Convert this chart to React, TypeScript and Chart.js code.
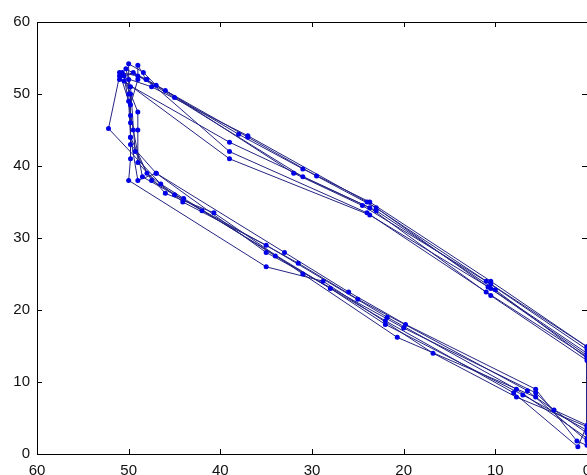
import React, { useEffect, useRef } from "react";
import { Chart, registerables } from "chart.js";

Chart.register(...registerables);

// Trajectory cycles: [x, y] pairs
const cycle1: [number, number][] = [
  [0, 1.2], [1.1, 1.8], [5.6, 9], [19.8, 18], [26, 22.5], [33, 28], [47, 39], [49.8, 43], [49.8, 47],
  [50, 50], [50, 52], [50, 54.2], [48.4, 53], [47, 51.2], [38, 44.4], [31, 39.6], [23.7, 35], [10.5, 24], [0, 14.9],
];
const cycle2: [number, number][] = [
  [0, 2.2], [7.7, 9], [21.8, 19], [35, 29], [44.1, 35], [48, 39], [49.8, 44], [49.8, 48.5],
  [49, 52], [49, 54], [48.1, 52], [37, 44], [29.5, 38.6], [23, 34.2], [10.8, 23.2], [0, 13.7],
];
const cycle3: [number, number][] = [
  [0, 2.9], [5.6, 7.9], [20.7, 16.2], [31, 25], [40.7, 33.5], [46, 36.2], [49, 40.5], [49, 45],
  [49, 47.5], [50.7, 53], [51, 52], [39, 43.3], [23.7, 34.2], [10.5, 22], [0, 13],
];
const cycle4: [number, number][] = [
  [0, 3.8], [7.7, 7.9], [16.8, 14], [28.8, 24], [35, 26], [50, 38], [49.8, 41], [49.8, 46],
  [49.8, 50], [50.5, 51.8], [39, 41], [23.7, 33.2], [10.5, 23], [0, 14],
];
const cycle5: [number, number][] = [
  [0, 14.9], [10.5, 23.6], [24, 35], [37, 44.2], [47.5, 51], [51, 52.5], [52.2, 45.2], [46.5, 37.5],
  [44, 35.5], [34, 27.5], [22, 18.5], [8, 8.5], [1, 1],
];
const cycle6: [number, number][] = [
  [0, 4], [3.6, 6.1], [5.6, 8.5], [20, 17.5], [35, 28], [47, 39], [49, 38], [49.8, 44], [50, 49],
  [51, 53], [49, 52.5], [48, 52], [39, 42], [24, 33.5], [11, 22.5], [0, 13.5],
];
const cycle7: [number, number][] = [
  [0, 1.8], [6.5, 8.8], [25, 21.5], [31.5, 26.5], [45, 36], [48.5, 38.5], [49.5, 45], [50.5, 52.5],
  [49.5, 53], [46, 50.5], [32, 39], [24.5, 34.5], [11, 24], [0, 14.5],
];
const cycle8: [number, number][] = [
  [0, 3.3], [7, 8.2], [22, 18], [28, 23], [42, 33.8], [47.5, 38], [49.3, 42], [49.8, 51],
  [50.3, 53.5], [45, 49.5], [31, 38.5], [23, 33.8], [10, 22.8], [0, 13.3],
];

const cycles = [cycle1, cycle2, cycle3, cycle4, cycle5, cycle6, cycle7, cycle8];

const xTickValues = [0, 10, 20, 30, 40, 50, 60];
const yTickValues = [0, 10, 20, 30, 40, 50, 60];

const boxPlugin = {
  id: "matlabBox",
  afterDraw(chart: any) {
    const { ctx, chartArea, scales } = chart;
    const { left, right, top, bottom } = chartArea;
    ctx.save();
    ctx.strokeStyle = "#000";
    ctx.lineWidth = 1;
    ctx.strokeRect(Math.round(left) + 0.5, Math.round(top) + 0.5, Math.round(right - left), Math.round(bottom - top));
    const len = 5;
    ctx.beginPath();
    for (const v of xTickValues) {
      const px = Math.round(scales.x.getPixelForValue(v)) + 0.5;
      ctx.moveTo(px, bottom);
      ctx.lineTo(px, bottom - len);
      ctx.moveTo(px, top);
      ctx.lineTo(px, top + len);
    }
    for (const v of yTickValues) {
      const py = Math.round(scales.y.getPixelForValue(v)) + 0.5;
      ctx.moveTo(left, py);
      ctx.lineTo(left + len, py);
      ctx.moveTo(right, py);
      ctx.lineTo(right - len, py);
    }
    ctx.stroke();
    ctx.restore();
  },
};

export default function App() {
  const ref = useRef<HTMLCanvasElement | null>(null);

  useEffect(() => {
    if (!ref.current) return;
    const points = cycles.flat().map(([x, y]) => ({ x, y }));
    const font = { family: "'Liberation Sans', Arial, sans-serif", size: 15 };
    const chart = new Chart(ref.current, {
      type: "scatter",
      data: {
        datasets: [
          {
            data: points,
            showLine: true,
            borderColor: "rgb(35,35,130)",
            borderWidth: 1,
            pointRadius: 2.5,
            pointBackgroundColor: "#0000e6",
            pointBorderColor: "#0000e6",
            pointBorderWidth: 0,
            pointStyle: "circle",
          },
        ],
      },
      options: {
        animation: false,
        responsive: false,
        devicePixelRatio: 1,
        layout: { padding: { top: 22, right: 13, bottom: 0, left: 0 } },
        plugins: { legend: { display: false }, tooltip: { enabled: false } },
        scales: {
          x: {
            type: "linear",
            reverse: true,
            min: 0,
            max: 60,
            grid: { display: false, drawTicks: false },
            border: { display: false },
            afterFit: (s: any) => {
              s.height = 26;
            },
            afterBuildTicks: (s: any) => {
              s.ticks = xTickValues.map((v) => ({ value: v }));
            },
            ticks: { color: "#111", font, padding: 8, maxRotation: 0 },
          },
          y: {
            type: "linear",
            min: 0,
            max: 60,
            grid: { display: false, drawTicks: false },
            border: { display: false },
            afterFit: (s: any) => {
              s.width = 37;
            },
            afterBuildTicks: (s: any) => {
              s.ticks = yTickValues.map((v) => ({ value: v }));
            },
            ticks: { color: "#111", font, padding: 7 },
          },
        },
      },
      plugins: [boxPlugin],
    } as any);
    return () => chart.destroy();
  }, []);

  return (
    <div
      style={{
        position: "fixed",
        left: 0,
        top: 0,
        width: 587,
        height: 475,
        overflow: "hidden",
        background: "#fff",
      }}
    >
      <canvas ref={ref} width={600} height={480} style={{ width: 600, height: 480, display: "block" }} />
    </div>
  );
}
